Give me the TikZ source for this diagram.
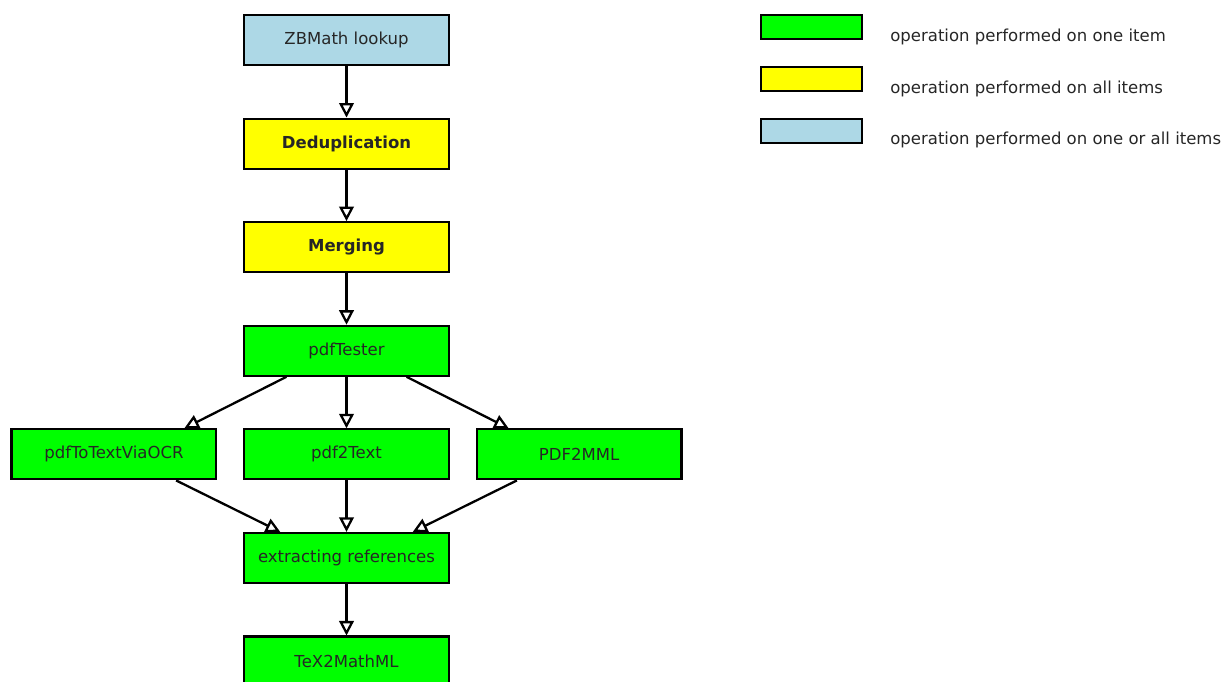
\documentclass[tikz,border=0pt]{standalone}
\usepackage{fontspec}
\setmainfont{DejaVu Sans}
\usepackage{tikz}
\usetikzlibrary{positioning,arrows.meta,calc}

\definecolor{oneitem}{HTML}{00FF00}
\definecolor{allitems}{HTML}{FFFF00}
\definecolor{anyitems}{HTML}{ADD8E6}

\begin{document}
\begin{tikzpicture}[x=0.02cm,y=-0.02cm,
box/.style={draw,rectangle,line width=1.2pt,minimum width=4.1cm,minimum height=1cm,inner sep=0pt,
    font=\fontsize{9.4}{11}\selectfont,text=black!85},
legbox/.style={draw,rectangle,line width=1.3pt,minimum width=2.02cm,minimum height=0.48cm,inner sep=0pt},
legtext/.style={anchor=west,inner sep=0pt,font=\fontsize{9.4}{11}\selectfont,text=black!85},
flow/.style={-{Triangle[open,length=0.29cm,width=0.29cm]},line width=1.3pt},
node distance=1.03cm and 0.51cm]
\useasboundingbox (0,0) rectangle (1224,681);
% processing chain
\node (zbmath) [box,fill=anyitems] at (346.5,40) {ZBMath lookup};
\node (dedup) [box,fill=allitems,below=of zbmath] {\textbf{Deduplication}};
\node (merge) [box,fill=allitems,below=of dedup] {\textbf{Merging}};
\node (tester) [box,fill=oneitem,below=of merge] {pdfTester};
\node (totext) [box,fill=oneitem,below=of tester] {pdf2Text};
\node (ocr) [box,fill=oneitem,left=of totext] {pdfToTextViaOCR};
\node (mml) [box,fill=oneitem,right=of totext] {PDF2MML};
\node (extract) [box,fill=oneitem,below=of totext] {extracting references};
\node (tex) [box,fill=oneitem,below=of extract] {TeX2MathML};
\draw[flow] (zbmath) -- (dedup);
\draw[flow] (dedup) -- (merge);
\draw[flow] (merge) -- (tester);
\draw[flow] (tester) -- (totext);
\draw[flow] ($(tester.south west)!0.21!(tester.south east)$) -- ($(ocr.north west)!0.84!(ocr.north east)$);
\draw[flow] ($(tester.south west)!0.79!(tester.south east)$) -- ($(mml.north west)!0.16!(mml.north east)$);
\draw[flow] ($(ocr.south west)!0.80!(ocr.south east)$) -- ($(extract.north west)!0.18!(extract.north east)$);
\draw[flow] (totext) -- (extract);
\draw[flow] ($(mml.south west)!0.20!(mml.south east)$) -- ($(extract.north west)!0.82!(extract.north east)$);
\draw[flow] (extract) -- (tex);
% legend
\node (legone) [legbox,fill=oneitem] at (811.5,27) {};
\node (legall) [legbox,fill=allitems] at (811.5,79) {};
\node (legany) [legbox,fill=anyitems] at (811.5,131) {};
\node (txtone) [legtext] at (890,37) {operation performed on one item};
\node (txtall) [legtext] at (890,89) {operation performed on all items};
\node (txtany) [legtext] at (890,140) {operation performed on one or all items};
\end{tikzpicture}
\end{document}
